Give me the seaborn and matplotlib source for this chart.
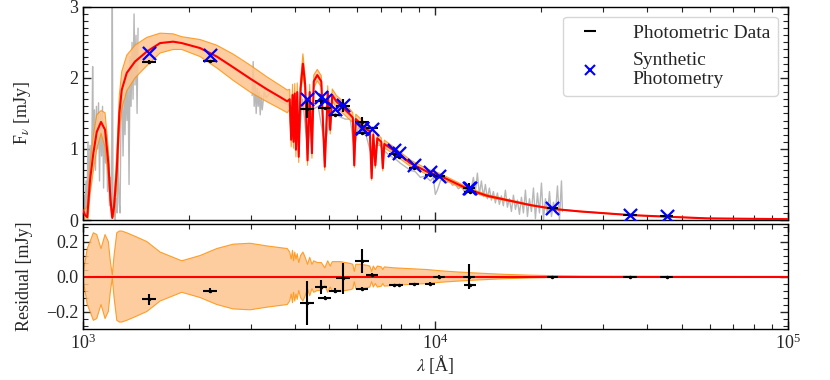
import numpy as np
import pandas as pd
import seaborn as sns
import matplotlib.pyplot as plt
from matplotlib.ticker import AutoMinorLocator, LogLocator, NullFormatter, MultipleLocator
from matplotlib.lines import Line2D

# photometry: band wavelength [A], half band width, observed flux, error, synthetic flux [mJy]
phot_wave = [1540, 2296, 4321, 4745, 4849, 5199, 5467, 6190, 6190, 6610,
             7612, 7865, 8717, 9679, 10218, 12480, 12550, 21496, 35650, 45330]
phot_xerr = [72, 108, 193, 184, 218, 215, 245, 277, 240, 272,
             228, 236, 288, 320, 400, 475, 475, 795, 1600, 2040]
phot_flux = [2.22, 2.24, 1.56, 1.67, 1.57, 1.48, 1.61, 1.38, 1.23, 1.29,
             0.93, 0.89, 0.73, 0.64, 0.62, 0.446, 0.40, 0.167, 0.07, 0.056]
phot_yerr = [0.03, 0.012, 0.127, 0.042, 0.01, 0.015, 0.09, 0.07, 0.008, 0.008,
             0.006, 0.006, 0.006, 0.006, 0.006, 0.07, 0.006, 0.005, 0.002, 0.002]
synth_flux = [2.35, 2.32, 1.71, 1.73, 1.69, 1.56, 1.62, 1.29, 1.30, 1.28,
              0.98, 0.94, 0.775, 0.68, 0.62, 0.446, 0.446, 0.17, 0.07, 0.056]

# best-fit model and its uncertainty
model_wave = [1000, 1013, 1028, 1047, 1070, 1094, 1125, 1155, 1180, 1197, 1211, 1225,
              1247, 1268, 1288, 1331, 1405, 1517, 1655, 1802, 1907, 2149, 2398, 2668,
              2982, 3326, 3628, 3799, 3861, 3898, 3932, 3958, 3990, 4021, 4055, 4095,
              4144, 4209, 4272, 4338, 4400, 4465, 4518, 4623, 4746, 4855, 4950, 5031,
              5098, 5234, 5373, 5551, 5736, 5831, 5887, 5946, 6124, 6368, 6517, 6595,
              6668, 6756, 6844, 7025, 7095, 7164, 7612, 8492, 9474, 10335, 11397, 12576,
              14050, 15985, 18620, 21685, 25820, 35580, 45330, 59160, 100000]
model_flux = [0.14, 0.07, 0.04, 0.56, 0.94, 1.24, 1.38, 1.27, 0.80, 0.28, 0.03, 0.19,
              0.70, 1.50, 1.83, 2.07, 2.23, 2.37, 2.49, 2.51, 2.49, 2.42, 2.30, 2.15,
              1.99, 1.84, 1.73, 1.67, 1.70, 1.13, 1.76, 1.10, 1.78, 0.99, 1.80, 0.89,
              1.85, 2.20, 1.90, 0.84, 1.80, 0.94, 1.95, 2.04, 1.95, 0.75, 1.80, 1.27,
              1.76, 1.67, 1.62, 1.55, 1.48, 1.44, 0.77, 1.42, 1.36, 1.28, 1.25, 0.59,
              1.20, 0.77, 1.15, 1.10, 0.73, 1.07, 0.98, 0.80, 0.68, 0.62, 0.52, 0.42,
              0.34, 0.28, 0.21, 0.155, 0.12, 0.07, 0.047, 0.023, 0.012]
model_err = [0.02, 0.08, 0.16, 0.20, 0.25, 0.24, 0.16, 0.24, 0.20, 0.08, 0.01, 0.12,
             0.25, 0.26, 0.26, 0.25, 0.23, 0.20, 0.14, 0.11, 0.09, 0.12, 0.16, 0.185,
             0.19, 0.175, 0.165, 0.16, 0.14, 0.10, 0.15, 0.09, 0.14, 0.10, 0.13, 0.08,
             0.12, 0.14, 0.11, 0.07, 0.11, 0.07, 0.09, 0.08, 0.08, 0.05, 0.09, 0.06,
             0.085, 0.085, 0.085, 0.08, 0.075, 0.07, 0.03, 0.07, 0.07, 0.065, 0.06, 0.03,
             0.06, 0.04, 0.06, 0.055, 0.04, 0.055, 0.05, 0.045, 0.04, 0.033, 0.027, 0.022,
             0.017, 0.012, 0.008, 0.005, 0.003, 0.002, 0.001, 0.001, 0.0005]

# observed spectra (UV and optical/NIR)
uv_wave = [1007, 1013, 1020, 1026, 1033, 1040, 1047, 1054, 1061, 1065, 1071, 1078,
           1085, 1092, 1099, 1107, 1114, 1121, 1129, 1136, 1144, 1151, 1159, 1166,
           1174, 1182, 1189, 1197, 1205, 1211, 1217, 1225, 1233, 1241, 1249, 1257,
           1266, 1274, 1282, 1291, 1299, 1308, 1316, 1325, 1333, 1342, 1351, 1360,
           1369, 1378, 1387, 1396, 1405, 1414, 1424, 1433]
uv_flux = [0.35, 0.05, 0.55, 0.15, 1.10, 0.40, 1.05, 0.70, 1.30, 2.16, 0.90, 1.55,
           0.70, 1.60, 1.00, 1.65, 0.55, 1.50, 0.90, 1.60, 0.45, 1.30, 0.80, 1.20,
           0.40, 0.90, 0.20, 0.60, 0.05, 3.20, 0.05, 0.15, 0.00, 0.30, 0.10, 0.90,
           0.25, 0.10, 1.50, 1.90, 0.90, 1.70, 1.20, 2.00, 1.40, 2.10, 0.50, 2.30,
           1.60, 2.50, 1.70, 2.90, 1.90, 2.60, 1.50, 2.70]
opt_wave = [3021, 3041, 3061, 3081, 3101, 3122, 3142, 3163, 3184, 3205, 3226, 3268,
            3311, 3399, 3510, 3628, 3747, 3845, 3898, 3990, 4095, 4200, 4338, 4470,
            4650, 4855, 5031, 5199, 5373, 5551, 5736, 5887, 6036, 6190, 6368, 6595,
            6756, 6960, 7211, 7452, 7700, 7956, 8220, 8492, 8774, 9067, 9368, 9679,
            9870, 10000, 10132, 10335, 10538, 10747, 10960, 11177, 11397, 11627, 11857,
            12092, 12330, 12576, 12823, 12993, 13162, 13335, 13511, 13690, 13870, 14050,
            14236, 14424, 14613, 14806, 15001, 15196, 15397, 15600, 15806, 16015, 16226,
            16441, 16658, 16878, 17100, 17326, 17555, 17783, 18018, 18256, 18497, 18741,
            18988, 19235, 19489, 19746, 20007, 20271, 20535, 20807, 21082, 21360, 21642,
            21928, 22213, 22506, 22803, 22951]
opt_flux = [1.75, 2.23, 1.60, 1.90, 1.50, 1.85, 1.60, 1.80, 1.48, 1.75, 1.55, 1.80,
            1.72, 1.80, 1.72, 1.68, 1.64, 1.62, 1.20, 1.50, 1.10, 1.70, 1.00, 1.55,
            1.60, 1.05, 1.45, 1.50, 1.45, 1.42, 1.42, 1.00, 1.30, 1.25, 1.18, 0.90,
            1.05, 1.05, 0.96, 0.90, 0.86, 0.80, 0.75, 0.70, 0.68, 0.60, 0.62, 0.55,
            0.60, 0.36, 0.42, 0.55, 0.58, 0.52, 0.56, 0.49, 0.50, 0.44, 0.47,
            0.40, 0.45, 0.38, 0.60, 0.40, 0.66, 0.36, 0.55, 0.33, 0.50, 0.30,
            0.45, 0.28, 0.40, 0.24, 0.38, 0.22, 0.34, 0.20, 0.42, 0.18, 0.30,
            0.12, 0.35, 0.15, 0.28, 0.08, 0.32, 0.10, 0.42, 0.05, 0.30, 0.12,
            0.45, 0.02, 0.38, 0.10, 0.52, 0.00, 0.30, 0.08, 0.40, 0.05, 0.25,
            0.10, 0.48, 0.00, 0.55, 0.12]

sns.set_theme(style='ticks')
plt.rcParams['font.family'] = ['Liberation Serif', 'DejaVu Serif']
plt.rcParams['mathtext.fontset'] = 'stix'
plt.rcParams['axes.edgecolor'] = 'black'
plt.rcParams['axes.linewidth'] = 1.0

spec = pd.concat([
    pd.DataFrame({'wave': uv_wave, 'flux': uv_flux, 'seg': 'uv'}),
    pd.DataFrame({'wave': opt_wave, 'flux': opt_flux, 'seg': 'opt'}),
])
model = pd.DataFrame({'wave': model_wave, 'flux': model_flux, 'err': model_err})
phot = pd.DataFrame({'wave': phot_wave, 'flux': phot_flux, 'xerr': phot_xerr,
                     'yerr': phot_yerr, 'synth': synth_flux})
phot['resid'] = phot['flux'] - phot['synth']

fig, (ax1, ax2) = plt.subplots(2, 1, figsize=(8.3, 3.8), dpi=100, sharex=True,
                               gridspec_kw={'height_ratios': [213, 105], 'hspace': 0.025})
fig.subplots_adjust(left=0.1, right=0.949, top=0.982, bottom=0.134)
ax1.set_xscale('log')

band_color = '#fdc590'
sns.lineplot(data=spec, x='wave', y='flux', units='seg', estimator=None, sort=False,
             color='#b8b8b8', lw=1.0, ax=ax1, zorder=1)
ax1.fill_between(model['wave'], model['flux'] - model['err'], model['flux'] + model['err'],
                 facecolor=band_color, edgecolor='none', alpha=0.85, zorder=2)
for sgn in (-1, 1):
    ax1.plot(model['wave'], model['flux'] + sgn * model['err'], color='darkorange',
             lw=0.8, alpha=0.8, zorder=2)
sns.lineplot(data=model, x='wave', y='flux', estimator=None, sort=False,
             color='red', lw=1.5, ax=ax1, zorder=3)
ax1.errorbar(phot['wave'], phot['flux'], xerr=phot['xerr'], yerr=phot['yerr'],
             fmt='.', color='black', ms=3, elinewidth=1.5, capsize=0, zorder=4)
sns.scatterplot(data=phot, x='wave', y='synth', marker='x', color='blue', s=90,
                linewidth=1.6, ax=ax1, zorder=5)

ax2.fill_between(model['wave'], -model['err'], model['err'],
                 facecolor=band_color, edgecolor='none', alpha=0.85, zorder=1)
for sgn in (-1, 1):
    ax2.plot(model['wave'], sgn * model['err'], color='darkorange', lw=0.8, alpha=0.8, zorder=1)
ax2.axhline(0, color='red', lw=1.5, zorder=2)
ax2.errorbar(phot['wave'], phot['resid'], xerr=phot['xerr'], yerr=phot['yerr'],
             fmt='.', color='black', ms=3, elinewidth=1.5, capsize=0, zorder=4)

ax1.set_xlim(1000, 1e5)
ax1.set_ylim(0, 3)
ax2.set_ylim(-0.3, 0.3)
ax1.yaxis.set_major_locator(MultipleLocator(1))
ax1.yaxis.set_minor_locator(AutoMinorLocator(10))
ax2.yaxis.set_major_locator(MultipleLocator(0.2))
ax2.yaxis.set_minor_locator(AutoMinorLocator(5))
ax2.xaxis.set_major_locator(LogLocator(base=10))
ax2.xaxis.set_minor_locator(LogLocator(base=10, subs=np.arange(2, 10)))
ax2.xaxis.set_minor_formatter(NullFormatter())

for ax in (ax1, ax2):
    ax.tick_params(which='both', direction='in', top=True, right=True, labelsize=13)
    ax.tick_params(which='major', length=6, width=1)
    ax.tick_params(which='minor', length=3.5, width=0.8)
ax1.tick_params(labelbottom=False)

ax1.set_xlabel('')
ax1.set_ylabel(r'F$_\nu$ [mJy]', fontsize=13, labelpad=9)
ax2.set_ylabel('Residual [mJy]', fontsize=13, labelpad=9)
ax2.set_xlabel(r'$\lambda$ [Å]', fontsize=13, labelpad=0)
fig.align_ylabels([ax1, ax2])

handles = [Line2D([], [], color='black', marker='_', ls='none', ms=9, mew=1.5),
           Line2D([], [], color='blue', marker='x', ls='none', ms=7, mew=1.5)]
ax1.legend(handles, ['Photometric Data', 'Synthetic\nPhotometry'], loc='upper right',
           fontsize=14, frameon=True, fancybox=True, edgecolor='#cccccc', framealpha=0.8,
           handletextpad=1.2)

fig.savefig('out.png', dpi=100)
